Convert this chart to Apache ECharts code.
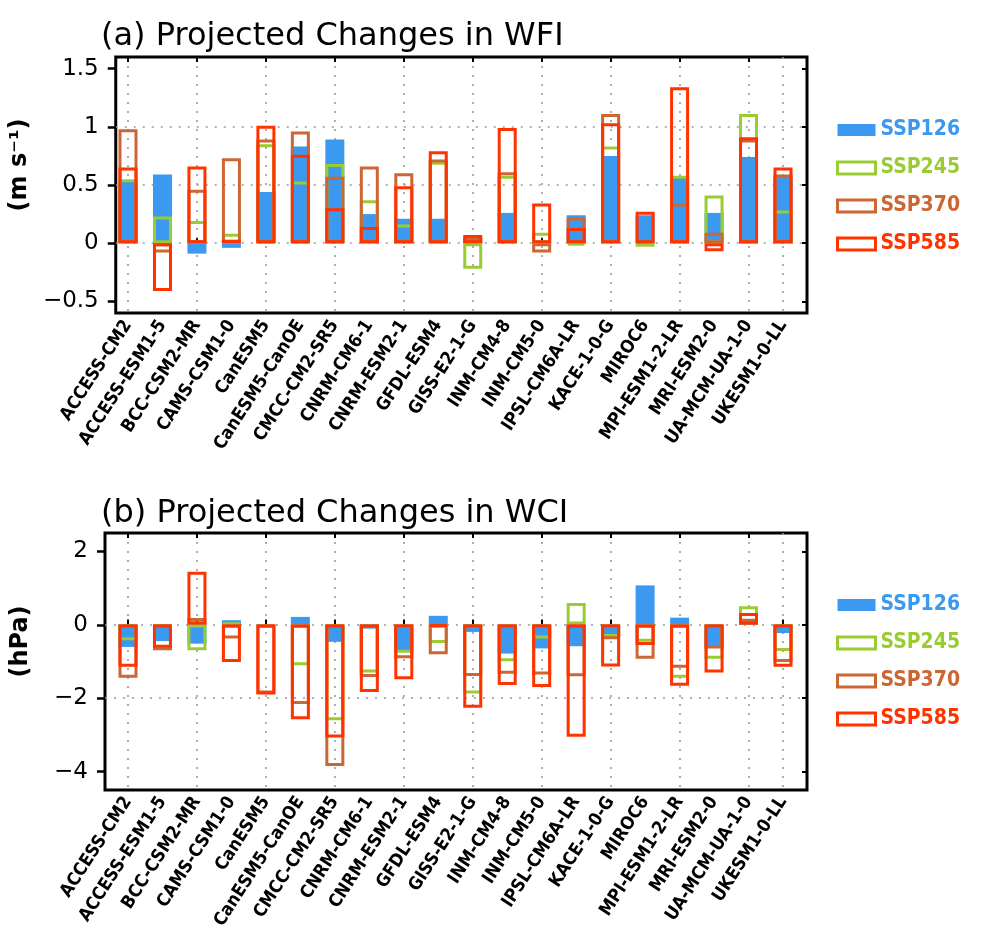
<!DOCTYPE html>
<html>
<head>
<meta charset="utf-8">
<script src="https://cdn.jsdelivr.net/npm/echarts@6/dist/echarts.min.js"></script>
<style>
  html, body { margin: 0; padding: 0; background: #fff; }
  #main { width: 981px; height: 932px; }
</style>
</head>
<body>
<div id="main"></div>
<script>
var models = ['ACCESS-CM2', 'ACCESS-ESM1-5', 'BCC-CSM2-MR', 'CAMS-CSM1-0', 'CanESM5',
  'CanESM5-CanOE', 'CMCC-CM2-SR5', 'CNRM-CM6-1', 'CNRM-ESM2-1', 'GFDL-ESM4',
  'GISS-E2-1-G', 'INM-CM4-8', 'INM-CM5-0', 'IPSL-CM6A-LR', 'KACE-1-0-G',
  'MIROC6', 'MPI-ESM1-2-LR', 'MRI-ESM2-0', 'UA-MCM-UA-1-0', 'UKESM1-0-LL'];
var scenarios = ['SSP126', 'SSP245', 'SSP370', 'SSP585'];

// (a) WFI, m s-1
var wfi126 = [0.54, 0.59, -0.09, -0.04, 0.44, 0.83, 0.89, 0.25, 0.21, 0.21, 0.02, 0.26, 0.01, 0.24, 0.75, 0.24, 0.57, 0.26, 0.74, 0.57];
var wfi245 = [0.55, 0.23, 0.19, 0.08, 0.85, 0.53, 0.68, 0.37, 0.16, 0.70, -0.22, 0.58, 0.09, -0.02, 0.83, -0.03, 0.58, 0.41, 1.11, 0.28];
var wfi370 = [0.98, -0.08, 0.46, 0.73, 0.89, 0.96, 0.57, 0.66, 0.60, 0.72, 0.05, 0.61, -0.08, 0.22, 1.11, 0.02, 0.34, 0.09, 0.89, 0.59];
var wfi585 = [0.65, -0.41, 0.66, 0.03, 1.01, 0.76, 0.30, 0.14, 0.49, 0.79, 0.07, 0.99, 0.34, 0.13, 1.03, 0.27, 1.34, -0.07, 0.91, 0.65];

// (b) WCI, hPa
var wci126 = [-0.61, -0.45, -0.52, 0.12, -0.03, 0.21, -0.47, -0.11, -0.70, 0.24, -0.20, -0.79, -0.65, -0.59, -0.32, 1.07, 0.19, -0.63, 0.05, -0.23];
var wci245 = [-0.43, -0.06, -0.70, 0.05, -0.08, -1.11, -2.61, -1.31, -0.77, -0.50, -1.88, -1.00, -0.38, 0.59, -0.34, -0.47, -1.45, -0.93, 0.50, -0.72];
var wci370 = [-1.45, -0.70, 0.18, -0.38, -1.88, -2.17, -3.86, -1.43, -0.92, -0.81, -1.40, -1.34, -1.36, -1.41, -0.40, -0.93, -1.18, -0.65, 0.16, -1.02];
var wci585 = [-1.15, -0.63, 1.44, -1.02, -1.91, -2.58, -3.08, -1.84, -1.49, -0.05, -2.27, -1.65, -1.70, -3.06, -1.14, -0.56, -1.67, -1.31, 0.32, -1.15];

var wfiTicks = [-0.5, 0, 0.5, 1, 1.5];
var wciTicks = [-4, -2, 0, 2];

var colors = ['#3b9af0', '#99cc33', '#cc6633', '#ff3300'];

var dom = document.getElementById('main');
var myChart = echarts.init(dom);

var dotted = { color: '#9a9a9a', width: 1.6, type: [2, 7] };
var tickFont = "'DejaVu Sans', sans-serif";
var labelFont = "'DejaVu Sans Condensed', 'DejaVu Sans', sans-serif";

function minus(v) {
  return String(v).replace('-', '\u2212');
}

// frame grid (index 2p) and data grid (index 2p+1) for each panel
var frameGrids = [
  { left: 105, top: 57, width: 702, height: 256 },
  { left: 105, top: 533, width: 702, height: 257 }
];
var panels = [
  { min: -0.6, max: 1.6, split: 4, ticks: wfiTicks, name: '(m s\u207B\u00B9)', data: [wfi126, wfi245, wfi370, wfi585] },
  { min: -4.5, max: 2.5, split: 3, ticks: wciTicks, name: '(hPa)', data: [wci126, wci245, wci370, wci585] }
];

var grid = [], xAxis = [], yAxis = [], series = [];
panels.forEach(function (p, k) {
  var fg = frameGrids[k];
  grid.push({ left: fg.left, top: fg.top, width: fg.width, height: fg.height,
    show: true, borderColor: '#000', borderWidth: 3, backgroundColor: 'transparent' });
  // data grid: first/last model centres
  grid.push({ left: 128, top: fg.top, width: 655, height: fg.height });

  var gA = 2 * k, gB = 2 * k + 1;
  xAxis.push({ gridIndex: gA, type: 'value', show: false, min: 0, max: 1 });
  xAxis.push({
    gridIndex: gB, type: 'category', data: models, boundaryGap: false, position: 'bottom',
    axisLine: { show: false },
    axisTick: { show: true, inside: true, length: 5, interval: 1, lineStyle: { color: '#000', width: 2 } },
    splitLine: { show: true, interval: 1, lineStyle: dotted },
    axisLabel: { interval: 0, rotate: 57, margin: 9, color: '#000', fontSize: 18,
      fontWeight: 'bold', fontFamily: labelFont }
  });
  xAxis.push({
    gridIndex: gB, type: 'category', data: models, boundaryGap: false, position: 'top',
    axisLine: { show: false }, axisLabel: { show: false },
    axisTick: { show: true, inside: true, length: 5, interval: 1, lineStyle: { color: '#000', width: 2 } }
  });

  yAxis.push({
    gridIndex: gA, type: 'value', min: p.min, max: p.max, splitNumber: p.split, position: 'left',
    name: p.name, nameLocation: 'middle', nameGap: 72,
    nameTextStyle: { fontSize: 24, fontWeight: 'bold', color: '#000', fontFamily: tickFont,
      padding: [0, 0, 0, 40] },
    axisLine: { show: false },
    axisTick: { show: true, length: 8, customValues: p.ticks, lineStyle: { color: '#000', width: 2.5 } },
    axisLabel: { customValues: p.ticks, margin: 17, fontSize: 23, color: '#000', fontFamily: tickFont,
      formatter: minus },
    splitLine: { show: true, showMinLine: false, showMaxLine: false, lineStyle: dotted }
  });
  yAxis.push({
    gridIndex: gA, type: 'value', min: p.min, max: p.max, splitNumber: p.split, position: 'right',
    axisLine: { show: false }, axisLabel: { show: false }, splitLine: { show: false },
    axisTick: { show: true, inside: true, length: 5, customValues: p.ticks, lineStyle: { color: '#000', width: 2 } }
  });
  yAxis.push({ gridIndex: gB, type: 'value', min: p.min, max: p.max, show: false, splitLine: { show: false } });

  p.data.forEach(function (vals, s) {
    var st = s === 0
      ? { color: colors[0] }
      : { color: 'rgba(0,0,0,0)', borderColor: colors[s], borderWidth: 3 };
    series.push({
      name: scenarios[s], type: 'bar',
      xAxisIndex: 3 * k + 1, yAxisIndex: 3 * k + 2,
      barWidth: 19, barGap: '-100%',
      itemStyle: st,
      emphasis: { disabled: true },
      data: vals
    });
  });
});

function legendData() {
  return scenarios.map(function (n, s) {
    return {
      name: n,
      textStyle: { color: colors[s] },
      itemStyle: s === 0
        ? { color: colors[0], borderWidth: 0 }
        : { color: '#fff', borderColor: colors[s], borderWidth: 3 }
    };
  });
}

option = {
  backgroundColor: '#fff',
  animation: false,
  title: [
    { text: '(a) Projected Changes in WFI', left: 96, top: 16,
      textStyle: { fontSize: 32, fontWeight: 'normal', color: '#000', fontFamily: tickFont } },
    { text: '(b) Projected Changes in WCI', left: 96, top: 493,
      textStyle: { fontSize: 32, fontWeight: 'normal', color: '#000', fontFamily: tickFont } }
  ],
  legend: [
    { orient: 'vertical', left: 831, top: 114, itemWidth: 38, itemHeight: 12, itemGap: 16,
      icon: 'rect', selectedMode: false, data: legendData(),
      textStyle: { fontSize: 21, fontWeight: 'bold', fontFamily: labelFont, lineHeight: 22 } },
    { orient: 'vertical', left: 831, top: 589, itemWidth: 38, itemHeight: 12, itemGap: 16,
      icon: 'rect', selectedMode: false, data: legendData(),
      textStyle: { fontSize: 21, fontWeight: 'bold', fontFamily: labelFont, lineHeight: 22 } }
  ],
  grid: grid,
  xAxis: xAxis,
  yAxis: yAxis,
  series: series
};

myChart.setOption(option, true);

window.onresize = function () {
  myChart.resize();
};
</script>
</body>
</html>
